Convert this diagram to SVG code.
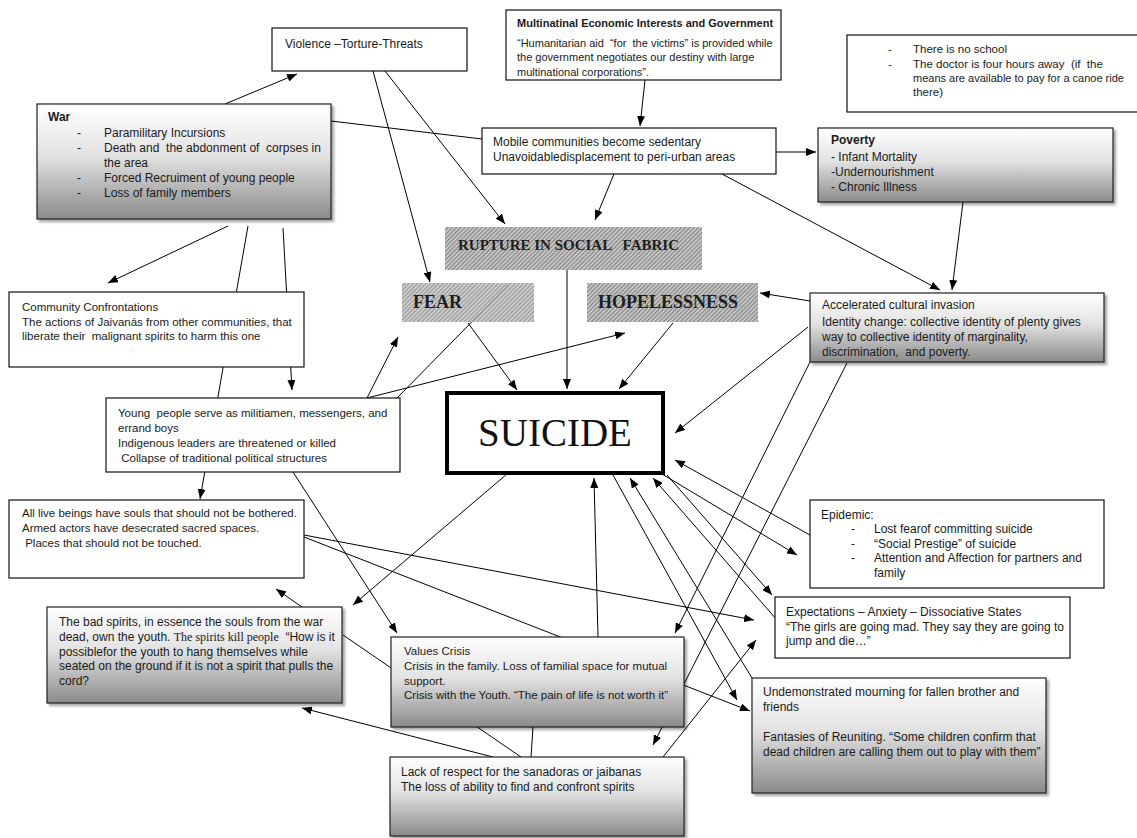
<svg xmlns="http://www.w3.org/2000/svg" width="1137" height="838" viewBox="0 0 1137 838">
<defs>
<style>
text{white-space:pre}
.t{font-family:"Liberation Sans",Arial,sans-serif;font-size:12px;fill:#1a1a1a}
.s{font-size:11px}
.m{font-size:11.5px}
.v{font-size:11.5px}
.b{font-weight:bold}
.sf{font-family:"Liberation Serif","Times New Roman",serif}
.box{fill:#fff;stroke:#111;stroke-width:1.2}
.gbox{fill:url(#grad);stroke:#222;stroke-width:1.2;filter:url(#sh)}
.hatch{fill:url(#hp);filter:url(#soft)}
.ht{font-family:"Liberation Serif","Times New Roman",serif;font-weight:bold;fill:#1e1e1e}
#connectors line{stroke:#000;stroke-width:1;fill:none}
#connectors line.a{marker-end:url(#ah)}
</style>
<linearGradient id="grad" x1="0" y1="0" x2="0" y2="1">
<stop offset="0" stop-color="#ffffff"/>
<stop offset="0.45" stop-color="#e2e2e2"/>
<stop offset="1" stop-color="#8a8a8a"/>
</linearGradient>
<filter id="sh" x="-5%" y="-5%" width="115%" height="125%">
<feDropShadow dx="2.5" dy="2.5" stdDeviation="1.2" flood-color="#000" flood-opacity="0.35"/>
</filter>
<filter id="soft" x="-5%" y="-10%" width="110%" height="120%">
<feGaussianBlur stdDeviation="0.7"/>
</filter>
<pattern id="hp" width="3" height="3" patternUnits="userSpaceOnUse" patternTransform="rotate(45)">
<rect width="3" height="3" fill="#d2d2d2"/>
<rect width="1.4" height="3" fill="#858585"/>
</pattern>
<marker id="ah" markerUnits="userSpaceOnUse" markerWidth="10" markerHeight="8" refX="10" refY="4" orient="auto">
<path d="M0,0 L10,4 L0,8 z" fill="#000"/>
</marker>
</defs>
<rect width="1137" height="838" fill="#fff"/>

<g id="connectors">
<line class="a" x1="225" y1="104" x2="297" y2="74"/>
<line class="p" x1="331" y1="121" x2="482" y2="139"/>
<line class="a" x1="373" y1="71" x2="430" y2="282"/>
<line class="a" x1="385" y1="71" x2="505" y2="224"/>
<line class="a" x1="645" y1="80" x2="640" y2="126"/>
<line class="a" x1="614" y1="174" x2="595" y2="220"/>
<line class="a" x1="776" y1="152" x2="816" y2="152"/>
<line class="a" x1="722" y1="174" x2="940" y2="290"/>
<line class="a" x1="963" y1="202" x2="952" y2="290"/>
<line class="a" x1="567" y1="270" x2="567" y2="389"/>
<line class="a" x1="468" y1="323" x2="517" y2="390"/>
<line class="a" x1="673" y1="323" x2="619" y2="389"/>
<line class="a" x1="810" y1="301" x2="760" y2="293"/>
<line class="a" x1="808" y1="327" x2="675" y2="433"/>
<line class="a" x1="810" y1="362" x2="675" y2="633"/>
<line class="a" x1="847" y1="363" x2="653" y2="745"/>
<line class="a" x1="810" y1="535" x2="675" y2="460"/>
<line class="a" x1="662" y1="474" x2="797" y2="555"/>
<line class="a" x1="667" y1="475" x2="772" y2="595"/>
<line class="a" x1="777" y1="620" x2="653" y2="478"/>
<line class="a" x1="752" y1="678" x2="630" y2="478"/>
<line class="a" x1="613" y1="475" x2="737" y2="700"/>
<line class="a" x1="507" y1="474" x2="353" y2="605"/>
<line class="a" x1="598" y1="637" x2="594" y2="478"/>
<line class="a" x1="367" y1="398" x2="398" y2="337"/>
<line class="a" x1="367" y1="398" x2="625" y2="333"/>
<line class="p" x1="397" y1="398" x2="508" y2="285"/>
<line class="a" x1="228" y1="226" x2="108" y2="283"/>
<line class="a" x1="248" y1="226" x2="200" y2="499"/>
<line class="a" x1="283" y1="228" x2="292" y2="390"/>
<line class="a" x1="293" y1="472" x2="397" y2="633"/>
<line class="a" x1="304" y1="535" x2="754" y2="620"/>
<line class="a" x1="304" y1="537" x2="750" y2="711"/>
<line class="a" x1="302" y1="607" x2="276" y2="589"/>
<line class="p" x1="343" y1="635" x2="521" y2="757"/>
<line class="a" x1="493" y1="757" x2="302" y2="708"/>
<line class="p" x1="531" y1="757" x2="533" y2="727"/>
<line class="a" x1="663" y1="757" x2="756" y2="640"/>
</g>

<g id="war">
<rect class="gbox" x="37" y="104" width="294" height="115"/>
<text class="t b" x="48" y="121">War</text>
<text class="t" x="77" y="137">-</text><text class="t" x="104" y="137">Paramilitary Incursions</text>
<text class="t" x="77" y="152">-</text><text class="t" x="104" y="152">Death and  the abdonment of  corpses in</text>
<text class="t" x="104" y="167">the area</text>
<text class="t" x="77" y="182">-</text><text class="t" x="104" y="182">Forced Recruiment of young people</text>
<text class="t" x="77" y="197">-</text><text class="t" x="104" y="197">Loss of family members</text>
</g>

<g id="violence">
<rect class="box" x="272" y="28" width="195" height="43"/>
<text class="t" x="285" y="48">Violence –Torture-Threats</text>
</g>

<g id="multinational">
<rect class="box" x="506" y="10" width="275" height="70"/>
<text class="t b" x="517" y="27" style="font-size:11px">Multinatinal Economic Interests and Government</text>
<text class="t s" x="517" y="47">“Humanitarian aid  “for  the victims” is provided while</text>
<text class="t s" x="517" y="61">the government negotiates our destiny with large</text>
<text class="t s" x="517" y="76">multinational corporations”.</text>
</g>

<g id="services">
<rect class="box" x="847" y="35" width="296" height="77"/>
<text class="t m" x="888" y="53">-</text><text class="t m" x="913" y="53">There is no school</text>
<text class="t m" x="888" y="68">-</text><text class="t m" x="913" y="68">The doctor is four hours away  (if  the</text>
<text class="t m" x="913" y="82" style="font-size:11px">means are available to pay for a canoe ride</text>
<text class="t m" x="913" y="96">there)</text>
</g>

<g id="mobile">
<rect class="box" x="482" y="128" width="294" height="46"/>
<text class="t" x="493" y="146">Mobile communities become sedentary</text>
<text class="t" x="493" y="161">Unavoidabledisplacement to peri-urban areas</text>
</g>

<g id="poverty">
<rect class="gbox" x="818" y="128" width="295" height="74"/>
<text class="t b" x="831" y="144">Poverty</text>
<text class="t" x="831" y="161">- Infant Mortality</text>
<text class="t" x="831" y="176">-Undernourishment</text>
<text class="t" x="831" y="191">- Chronic Illness</text>
</g>

<g id="rupture">
<rect class="hatch" x="445" y="227" width="257" height="43"/>
<text class="ht" x="458" y="250" style="font-size:15px">RUPTURE IN SOCIAL   FABRIC</text>
</g>

<g id="fear">
<rect class="hatch" x="402" y="283" width="132" height="39" opacity="0.85"/>
<text class="ht" x="413" y="308" style="font-size:18px">FEAR</text>
</g>

<g id="hopelessness">
<rect class="hatch" x="587" y="283" width="171" height="39"/>
<text class="ht" x="598" y="308" style="font-size:18px">HOPELESSNESS</text>
</g>

<g id="community">
<rect class="box" x="9" y="292" width="295" height="75"/>
<text class="t m" x="22" y="311">Community Confrontations</text>
<text class="t m" x="22" y="326">The actions of Jaivanás from other communities, that</text>
<text class="t m" x="22" y="340">liberate their  malignant spirits to harm this one</text>
</g>

<g id="young">
<rect class="box" x="106" y="398" width="294" height="74"/>
<text class="t m" x="118" y="417">Young  people serve as militiamen, messengers, and</text>
<text class="t m" x="118" y="432">errand boys</text>
<text class="t m" x="118" y="447">Indigenous leaders are threatened or killed</text>
<text class="t m" x="118" y="462"> Collapse of traditional political structures</text>
</g>

<g id="invasion">
<rect class="gbox" x="810" y="293" width="294" height="69"/>
<text class="t" x="822" y="309">Accelerated cultural invasion</text>
<text class="t" x="822" y="326">Identity change: collective identity of plenty gives</text>
<text class="t" x="822" y="341">way to collective identity of marginality,</text>
<text class="t" x="822" y="356">discrimination,  and poverty.</text>
</g>

<g id="suicide">
<rect x="447" y="393" width="216" height="80" fill="#fff" stroke="#000" stroke-width="4"/>
<text class="sf" x="555" y="446" text-anchor="middle" style="font-size:39px;fill:#111">SUICIDE</text>
</g>

<g id="epidemic">
<rect class="box" x="810" y="500" width="294" height="88"/>
<text class="t" x="821" y="519">Epidemic:</text>
<text class="t" x="851" y="533">-</text><text class="t" x="874" y="533">Lost fearof committing suicide</text>
<text class="t" x="851" y="548">-</text><text class="t" x="874" y="548">“Social Prestige” of suicide</text>
<text class="t" x="851" y="562">-</text><text class="t" x="874" y="562">Attention and Affection for partners and</text>
<text class="t" x="874" y="577">family</text>
</g>

<g id="souls">
<rect class="box" x="9" y="500" width="295" height="78"/>
<text class="t m" x="22" y="517">All live beings have souls that should not be bothered.</text>
<text class="t m" x="22" y="532">Armed actors have desecrated sacred spaces.</text>
<text class="t m" x="22" y="547"> Places that should not be touched.</text>
</g>

<g id="spirits">
<rect class="gbox" x="47" y="607" width="295" height="96"/>
<text class="t" x="59" y="626">The bad spirits, in essence the souls from the war</text>
<text class="t" x="59" y="641">dead, own the youth. <tspan class="sf">The spirits kill people</tspan>  “How is it</text>
<text class="t" x="59" y="656">possiblefor the youth to hang themselves while</text>
<text class="t" x="59" y="670">seated on the ground if it is not a spirit that pulls the</text>
<text class="t" x="59" y="685">cord?</text>
</g>

<g id="values">
<rect class="gbox" x="391" y="637" width="293" height="90"/>
<text class="t v" x="404" y="655">Values Crisis</text>
<text class="t v" x="404" y="670">Crisis in the family. Loss of familial space for mutual</text>
<text class="t v" x="404" y="685">support.</text>
<text class="t v" x="404" y="699">Crisis with the Youth. “The pain of life is not worth it”</text>
</g>

<g id="expectations">
<rect class="box" x="775" y="597" width="295" height="61"/>
<text class="t" x="786" y="616">Expectations – Anxiety – Dissociative States</text>
<text class="t" x="786" y="631">“The girls are going mad. They say they are going to</text>
<text class="t" x="786" y="645">jump and die…”</text>
</g>

<g id="mourning">
<rect class="gbox" x="752" y="678" width="294" height="115"/>
<text class="t" x="763" y="696">Undemonstrated mourning for fallen brother and</text>
<text class="t" x="763" y="711">friends</text>
<text class="t" x="763" y="741">Fantasies of Reuniting. “Some children confirm that</text>
<text class="t" x="763" y="756">dead children are calling them out to play with them”</text>
</g>

<g id="respect">
<rect class="gbox" x="390" y="757" width="294" height="79"/>
<text class="t" x="401" y="776">Lack of respect for the sanadoras or jaibanas</text>
<text class="t" x="401" y="791">The loss of ability to find and confront spirits</text>
</g>
</svg>
